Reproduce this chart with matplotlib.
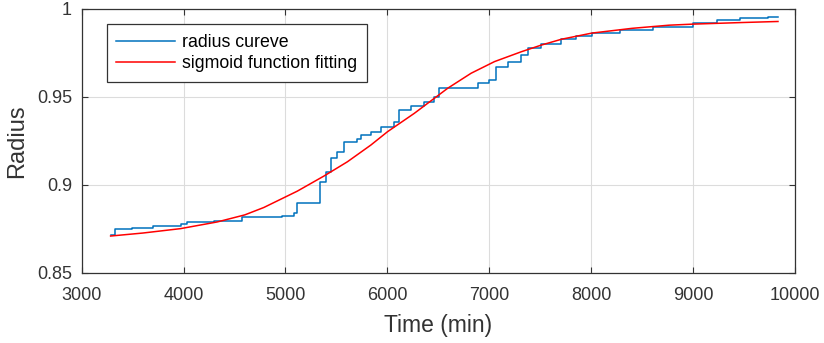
import numpy as np
import matplotlib
matplotlib.use('Agg')
from matplotlib import pyplot as plt

t_radius = [3291, 3323, 3497, 3700, 3970, 4036, 4300, 4575, 4969, 5080, 5116,
            5339, 5397, 5444, 5510, 5575, 5706, 5739, 5838, 5936, 6067, 6116,
            6231, 6362, 6461, 6510, 6723, 6888, 7002, 7068, 7183, 7314, 7380,
            7511, 7708, 7850, 8006, 8284, 8608, 9000, 9232, 9461, 9735, 9833]
radius = [0.8715, 0.8749, 0.8758, 0.8765, 0.8777, 0.8791, 0.8797, 0.8816, 0.8826, 0.8839, 0.8900,
          0.9019, 0.9076, 0.9152, 0.9189, 0.9246, 0.9260, 0.9284, 0.9303, 0.9331, 0.9360, 0.9426,
          0.9449, 0.9473, 0.9498, 0.9550, 0.9553, 0.9581, 0.9597, 0.9672, 0.9701, 0.9739, 0.9777,
          0.9801, 0.9828, 0.9845, 0.9863, 0.9880, 0.9899, 0.9918, 0.9936, 0.9948, 0.9957, 0.9957]

# red: sigmoid fit
t_fit = [3284, 3600, 3970, 4330, 4600, 4787, 5116, 5378, 5608, 5838, 6002, 6264,
         6593, 6822, 7051, 7314, 7511, 7708, 8006, 8400, 8765, 9000, 9477, 9833]
fit = [0.8710, 0.8727, 0.8752, 0.8790, 0.8830, 0.8872, 0.8965, 0.9051, 0.9132, 0.9227, 0.9303, 0.9407,
       0.9550, 0.9635, 0.9701, 0.9757, 0.9795, 0.9828, 0.9863, 0.9890, 0.9908, 0.9914, 0.9923, 0.9929]

xticks = [3000, 4000, 5000, 6000, 7000, 8000, 9000, 10000]
yticks = [0.85, 0.9, 0.95, 1.0]
ytick_labels = ['0.85', '0.9', '0.95', '1']

plt.rcParams['font.family'] = ['Liberation Sans', 'DejaVu Sans']
txt = '#333333'

fig = plt.figure(figsize=(8.24, 3.43), dpi=100)
ax = fig.add_axes([0.0991, 0.2041, 0.8657, 0.7697])

ax.plot(t_radius, radius, color='#0072BD', lw=1.1, drawstyle='steps-post', label='radius cureve')
ax.plot(t_fit, fit, color='red', lw=1.1, label='sigmoid function fitting')

ax.set_xlim(3000, 10000)
ax.set_ylim(0.85, 1.0)
ax.set_xticks(xticks)
ax.set_yticks(yticks)
ax.set_yticklabels(ytick_labels)
ax.grid(True, color='#dcdcdc', lw=0.8)
ax.tick_params(direction='in', top=True, right=True, labelsize=13, colors=txt, length=4)
ax.tick_params(axis='x', pad=10)
ax.tick_params(axis='y', pad=7)
for s in ax.spines.values():
    s.set_color(txt)
    s.set_linewidth(0.9)

ax.set_xlabel('Time (min)', fontsize=16.5, color=txt, labelpad=7)
ax.set_ylabel('Radius', fontsize=17, color=txt, labelpad=6)

leg = ax.legend(loc='upper left', bbox_to_anchor=(0.035, 0.943), fontsize=12.8,
                frameon=True, fancybox=False, edgecolor=txt, framealpha=1,
                handlelength=3.3, handletextpad=0.4, borderpad=0.55, labelspacing=0.25,
                borderaxespad=0)
leg.get_frame().set_linewidth(0.9)

fig.savefig('out.png', dpi=100)
